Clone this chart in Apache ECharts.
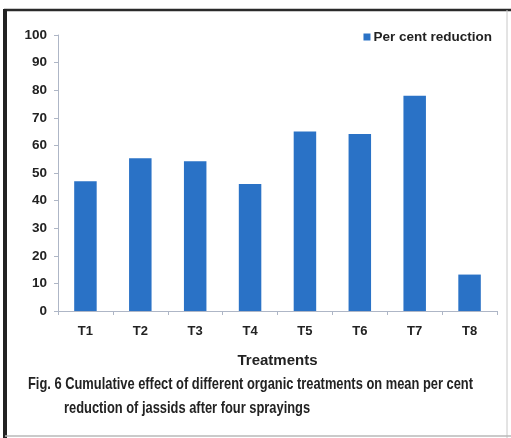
<!DOCTYPE html>
<html>
<head>
<meta charset="utf-8">
<script src="https://cdn.jsdelivr.net/npm/echarts@6/dist/echarts.min.js"></script>
<style>
  html, body { margin: 0; padding: 0; background: #fff; }
  #chart { width: 511px; height: 438px; }
</style>
</head>
<body>
<div id="chart"></div>
<script>
// Treatments and mean per cent reduction of jassids
const categories = ['T1', 'T2', 'T3', 'T4', 'T5', 'T6', 'T7', 'T8'];
const reduction = [47, 55.3, 54.3, 46, 65, 64.1, 78, 13.2];
const seriesName = 'Per cent reduction';
const xAxisTitle = 'Treatments';
const captionLines = [
  'Fig. 6 Cumulative effect of different organic treatments on mean per cent',
  'reduction of jassids after four sprayings'
];

const chart = echarts.init(document.getElementById('chart'), null, { renderer: 'canvas' });
const axisColor = '#aeb6c6';
const textColor = '#222222';
const boldFont = '"Liberation Sans", Arial, sans-serif';

// The caption is set in a condensed bold face: squeeze regular bold text horizontally
const captionSize = 17;
const captionWidth = 445;
const measureCtx = document.createElement('canvas').getContext('2d');
measureCtx.font = 'bold ' + captionSize + 'px "Liberation Sans", Arial, sans-serif';
const captionScale = captionWidth / measureCtx.measureText(captionLines[0]).width;

chart.setOption({
  backgroundColor: '#ffffff',
  animation: false,
  grid: { left: 58, right: 14, top: 35, bottom: 127, containLabel: false },
  legend: {
    right: 14,
    top: 25,
    itemWidth: 7,
    itemHeight: 7,
    icon: 'rect',
    textStyle: { fontFamily: boldFont, fontWeight: 'bold', fontSize: 13.5, color: textColor, padding: [0, 0, 0, -2] },
    data: [seriesName]
  },
  xAxis: {
    type: 'category',
    data: categories,
    name: xAxisTitle,
    nameLocation: 'middle',
    nameGap: 42,
    nameTextStyle: { fontFamily: boldFont, fontWeight: 'bold', fontSize: 15, color: textColor },
    axisLine: { lineStyle: { color: axisColor, width: 1 } },
    axisTick: { show: true, alignWithLabel: false, length: 4, lineStyle: { color: axisColor } },
    axisLabel: { fontFamily: boldFont, fontWeight: 'bold', fontSize: 13, color: textColor, margin: 14 }
  },
  yAxis: {
    type: 'value',
    min: 0,
    max: 100,
    interval: 10,
    axisLine: { show: true, lineStyle: { color: axisColor, width: 1 } },
    axisTick: { show: true, length: 4, lineStyle: { color: axisColor } },
    splitLine: { show: false },
    axisLabel: { fontFamily: boldFont, fontWeight: 'bold', fontSize: 13.5, color: textColor, margin: 11 }
  },
  series: [{
    name: seriesName,
    type: 'bar',
    data: reduction,
    barWidth: '41%',
    itemStyle: { color: '#2a72c6' }
  }],
  graphic: [
    // figure frame
    { type: 'line', shape: { x1: 4, y1: 10, x2: 511, y2: 10 }, style: { stroke: '#2a2a2a', lineWidth: 2.5 } },
    { type: 'line', shape: { x1: 5, y1: 9, x2: 5, y2: 438 }, style: { stroke: '#222', lineWidth: 4 } },
    { type: 'line', shape: { x1: 507, y1: 10, x2: 507, y2: 438 }, style: { stroke: '#c8c8c8', lineWidth: 1 } },
    { type: 'line', shape: { x1: 5, y1: 436, x2: 511, y2: 436 }, style: { stroke: '#b8b8b8', lineWidth: 1.5 } },
    // caption
    {
      type: 'text', x: 28, y: 376, scaleX: captionScale,
      style: { text: captionLines[0], fontFamily: boldFont, fontWeight: 'bold', fontSize: captionSize, fill: textColor }
    },
    {
      type: 'text', x: 64, y: 400, scaleX: captionScale,
      style: { text: captionLines[1], fontFamily: boldFont, fontWeight: 'bold', fontSize: captionSize, fill: textColor }
    }
  ]
});
</script>
</body>
</html>
